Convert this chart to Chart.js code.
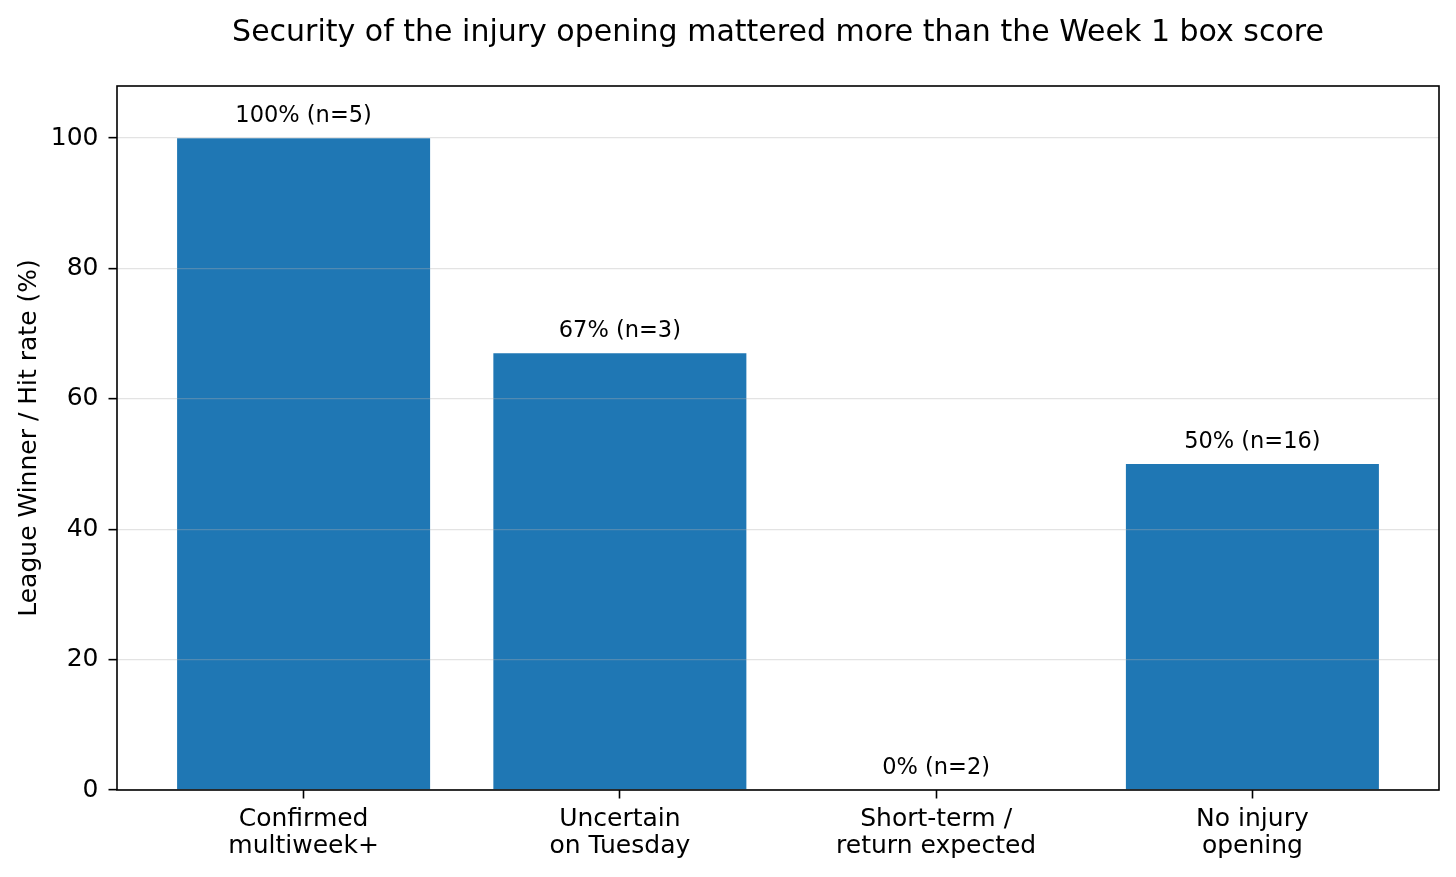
<!DOCTYPE html>
<html>
<head>
<meta charset="utf-8">
<script src="https://cdn.jsdelivr.net/npm/chart.js@4.4.1/dist/chart.umd.min.js"></script>
<style>
  html, body { margin: 0; padding: 0; background: #fff; }
  #wrap { width: 1456px; height: 877px; }
</style>
</head>
<body>
<div id="wrap"><canvas id="myChart" width="1456" height="877"></canvas></div>
<script>
const categories = [["Confirmed", "multiweek+"], ["Uncertain", "on Tuesday"], ["Short-term /", "return expected"], ["No injury", "opening"]];
const hitRates = [100, 67, 0, 50];
const sampleSizes = [5, 3, 2, 16];
const yTicks = [0, 20, 40, 60, 80, 100];
const chartTitle = "Security of the injury opening mattered more than the Week 1 box score";
const yLabel = "League Winner / Hit rate (%)";

const FONT = "'DejaVu Sans', sans-serif";
Chart.defaults.font.family = FONT;
Chart.defaults.color = "#000";

// bar labels, frame, title and y label drawn by hand
const extras = {
  id: "extras",
  afterDatasetsDraw(chart) {
    const ctx = chart.ctx;
    const meta = chart.getDatasetMeta(0);
    ctx.save();
    ctx.font = "22.5px " + FONT;
    ctx.fillStyle = "#000";
    ctx.textAlign = "center";
    ctx.textBaseline = "alphabetic";
    meta.data.forEach((bar, i) => {
      ctx.fillText(hitRates[i] + "% (n=" + sampleSizes[i] + ")", bar.x, bar.y - 16.3);
    });
    ctx.restore();
  },
  afterDraw(chart) {
    const ctx = chart.ctx;
    const a = chart.chartArea;
    ctx.save();
    ctx.strokeStyle = "#000";
    ctx.lineWidth = 1.6;
    ctx.strokeRect(a.left, a.top, a.right - a.left, a.bottom - a.top);

    ctx.fillStyle = "#000";
    ctx.textAlign = "center";
    ctx.textBaseline = "alphabetic";
    ctx.font = "30px " + FONT;
    ctx.fillText(chartTitle, (a.left + a.right) / 2, 41);

    ctx.translate(29.5, (a.top + a.bottom) / 2);
    ctx.rotate(-Math.PI / 2);
    ctx.textBaseline = "middle";
    ctx.font = "25px " + FONT;
    ctx.fillText(yLabel, 0, 0);
    ctx.restore();
  }
};

const ctx = document.getElementById("myChart");
new Chart(ctx, {
  type: "bar",
  data: {
    datasets: [
      {
        data: hitRates.map((v, i) => ({ x: i, y: v })),
        backgroundColor: "#1f77b4",
        borderWidth: 0,
        barPercentage: 0.8,
        categoryPercentage: 1.0,
      },
    ],
  },
  options: {
    responsive: false,
    animation: false,
    devicePixelRatio: 1,
    layout: { padding: { top: 86, right: 17, left: 0, bottom: 0 } },
    plugins: {
      legend: { display: false },
      tooltip: { enabled: false },
      title: { display: false },
    },
    scales: {
      x: {
        type: "linear",
        offset: false,
        min: -0.59,
        max: 3.59,
        afterBuildTicks: (scale) => {
          scale.ticks = categories.map((c, i) => ({ value: i }));
        },
        afterFit: (scale) => {
          scale.height = 87;
        },
        ticks: {
          autoSkip: false,
          maxRotation: 0,
          padding: 8,
          font: { size: 25, lineHeight: 1.07 },
          callback: (v) => categories[v],
        },
        grid: {
          offset: false,
          drawOnChartArea: false,
          drawTicks: true,
          tickLength: 8.5,
          tickColor: "#000",
          tickWidth: 1.6,
        },
        border: { display: false },
      },
      y: {
        min: 0,
        max: 108,
        afterBuildTicks: (scale) => {
          scale.ticks = yTicks.map((v) => ({ value: v }));
        },
        afterFit: (scale) => {
          scale.width = 117;
        },
        ticks: {
          padding: 10,
          font: { size: 25 },
        },
        grid: {
          z: 1,
          color: "rgba(176,176,176,0.35)",
          lineWidth: 1.3,
          tickLength: 8.5,
          tickColor: "#000",
          tickWidth: 1.6,
        },
        border: { display: false },
      },
    },
  },
  plugins: [extras],
});
</script>
</body>
</html>
